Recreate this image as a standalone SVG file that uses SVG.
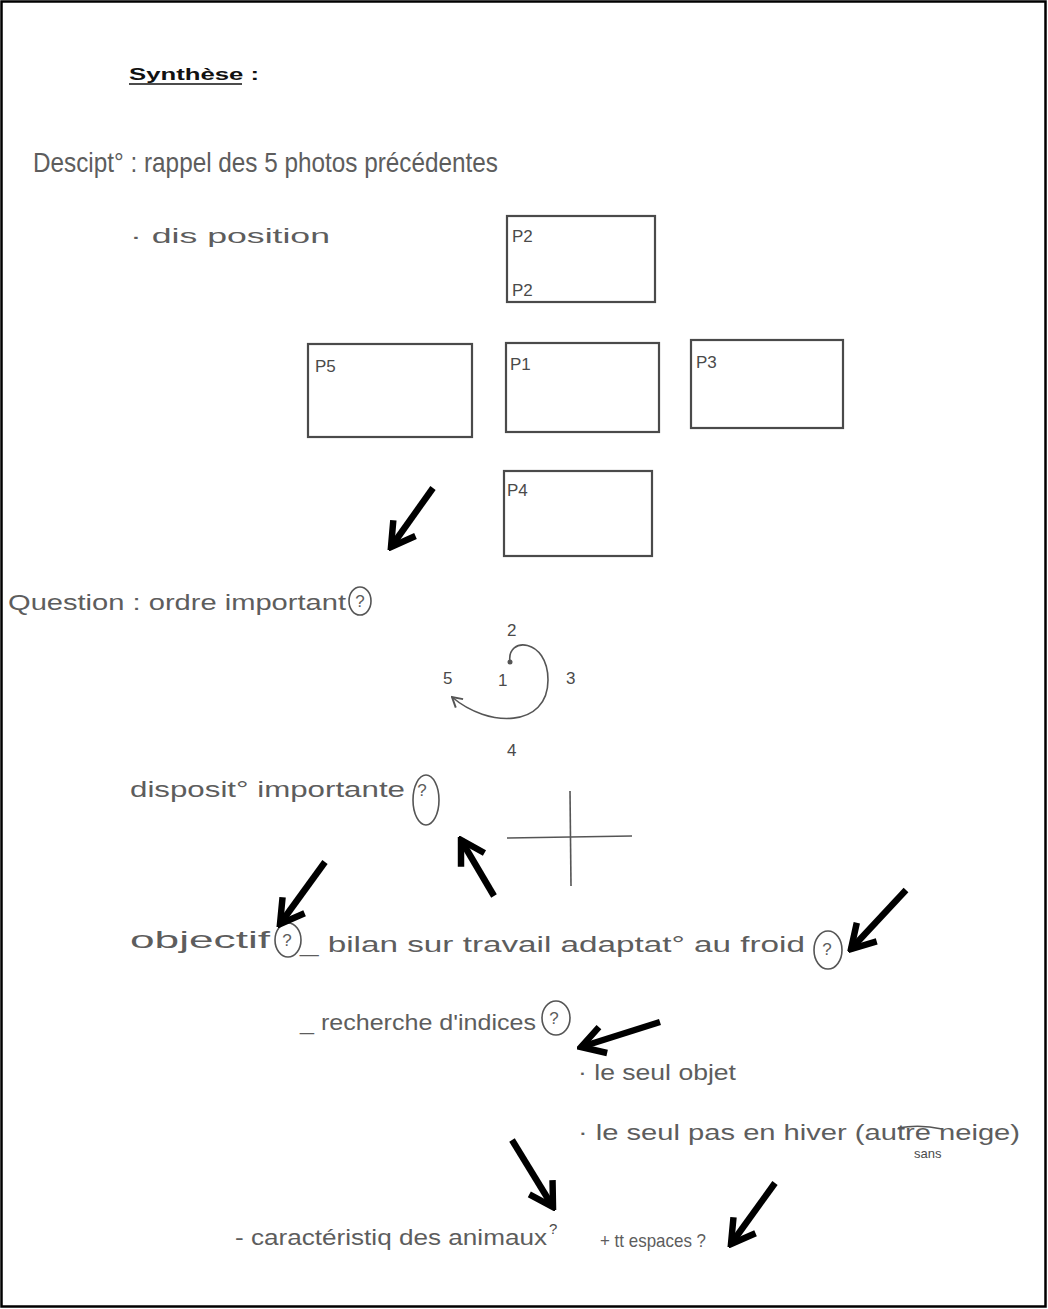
<svg xmlns="http://www.w3.org/2000/svg" width="1048" height="1309" viewBox="0 0 1048 1309">
<defs>
<style>
.hw{font-family:"Liberation Sans","DejaVu Sans",sans-serif;fill:#5d5d5d;font-size:22px;}
.sm{font-family:"Liberation Sans","DejaVu Sans",sans-serif;fill:#4a4a4a;font-size:17px;}
.q{font-family:"Liberation Sans","DejaVu Sans",sans-serif;fill:#5d5d5d;font-size:17px;text-anchor:middle;}
.box{fill:none;stroke:#4a4a4a;stroke-width:2.2;}
.arr{fill:none;stroke:#000;stroke-width:6.5;stroke-linecap:butt;}
.thin{fill:none;stroke:#555;stroke-width:1.6;}
</style>
<marker id="head" viewBox="0 0 10 10" refX="8.8" refY="5" markerWidth="34" markerHeight="34" markerUnits="userSpaceOnUse" orient="auto">
<path d="M2,1 L8.8,5 L2,9" fill="none" stroke="#000" stroke-width="1.9"/>
</marker>
<marker id="small" viewBox="0 0 10 10" refX="9" refY="5" markerWidth="14" markerHeight="14" markerUnits="userSpaceOnUse" orient="auto">
<path d="M2,1 L9,5 L2,9" fill="none" stroke="#555" stroke-width="1.4"/>
</marker>
</defs>
<rect x="0" y="0" width="1048" height="1309" fill="#fff"/>
<rect x="1.5" y="1.5" width="1044" height="1305" fill="none" stroke="#000" stroke-width="2.5"/>

<g id="title">
<text x="129" y="80" style="font-family:'Liberation Sans',sans-serif;font-weight:bold;font-size:16px;fill:#111" textLength="130" lengthAdjust="spacingAndGlyphs">Synthèse :</text>
<line x1="129" y1="84" x2="242" y2="84" stroke="#111" stroke-width="1.3"/>
</g>

<g id="description">
<text class="hw" x="33" y="172" style="font-size:28px" textLength="465" lengthAdjust="spacingAndGlyphs">Descipt° : rappel des 5 photos précédentes</text>
<text class="hw" x="130" y="243" style="font-size:21px" textLength="200" lengthAdjust="spacingAndGlyphs">· dis position</text>
</g>

<g id="photo-P2"><rect class="box" x="507" y="216" width="148" height="86"/><text class="sm" x="512" y="242">P2</text><text class="sm" x="512" y="296">P2</text></g>
<g id="photo-P5"><rect class="box" x="308" y="344" width="164" height="93"/><text class="sm" x="315" y="372">P5</text></g>
<g id="photo-P1"><rect class="box" x="506" y="343" width="153" height="89"/><text class="sm" x="510" y="370">P1</text></g>
<g id="photo-P3"><rect class="box" x="691" y="340" width="152" height="88"/><text class="sm" x="696" y="368">P3</text></g>
<g id="photo-P4"><rect class="box" x="504" y="471" width="148" height="85"/><text class="sm" x="507" y="496">P4</text></g>

<g id="question">
<text class="hw" x="8" y="610" textLength="338" lengthAdjust="spacingAndGlyphs">Question : ordre important</text>
<ellipse class="thin" cx="360" cy="601" rx="11" ry="14"/>
<text class="q" x="360" y="607">?</text>
</g>

<g id="clock">
<text class="sm" x="507" y="636">2</text>
<text class="sm" x="443" y="684">5</text>
<text class="sm" x="498" y="686">1</text>
<text class="sm" x="566" y="684">3</text>
<text class="sm" x="507" y="756">4</text>
<circle cx="510" cy="662" r="2.5" fill="#555"/>
<path class="thin" d="M510,662 C506,636 548,638 548,680 C548,728 488,728 452,697" marker-end="url(#small)"/>
</g>

<g id="disposition">
<text class="hw" x="130" y="797" textLength="275" lengthAdjust="spacingAndGlyphs">disposit° importante</text>
<ellipse class="thin" cx="426" cy="800" rx="13" ry="25"/>
<text class="q" x="422" y="796">?</text>
</g>

<g id="cross">
<line class="thin" x1="507" y1="838" x2="632" y2="836"/>
<line class="thin" x1="570" y1="791" x2="571" y2="886"/>
</g>

<g id="objectif">
<text class="hw" x="130" y="948" style="font-size:24px" textLength="140" lengthAdjust="spacingAndGlyphs">objectif</text>
<ellipse class="thin" cx="288" cy="940" rx="13" ry="17"/>
<text class="q" x="287" y="946">?</text>
</g>

<g id="bilan">
<text class="hw" x="300" y="952" textLength="505" lengthAdjust="spacingAndGlyphs">_ bilan sur travail adaptat° au froid</text>
<ellipse class="thin" cx="828" cy="950" rx="14" ry="19"/>
<text class="q" x="827" y="955">?</text>
</g>

<g id="recherche">
<text class="hw" x="300" y="1030" textLength="236" lengthAdjust="spacingAndGlyphs">_ recherche d'indices</text>
<ellipse class="thin" cx="556" cy="1018" rx="14" ry="17"/>
<text class="q" x="554" y="1024">?</text>
</g>

<g id="objet">
<text class="hw" x="578" y="1080" textLength="158" lengthAdjust="spacingAndGlyphs">· le seul objet</text>
</g>

<g id="hiver">
<text class="hw" x="578" y="1140" textLength="442" lengthAdjust="spacingAndGlyphs">· le seul pas en hiver (autre neige)</text>
<path class="thin" d="M898,1128 Q920,1124 942,1129" />
<text class="sm" x="914" y="1158" style="font-size:13px">sans</text>
</g>

<g id="caracteristiques">
<text class="hw" x="235" y="1245" textLength="312" lengthAdjust="spacingAndGlyphs">- caractéristiq des animaux</text>
<text class="sm" x="549" y="1234" style="font-size:15px">?</text>
<text class="hw" x="600" y="1247" style="font-size:19px" textLength="106" lengthAdjust="spacingAndGlyphs">+ tt espaces ?</text>
</g>

<g id="connectors">
<line class="arr" x1="433" y1="488" x2="391" y2="547" marker-end="url(#head)"/>
<line class="arr" x1="325" y1="862" x2="280" y2="924" marker-end="url(#head)"/>
<line class="arr" x1="494" y1="896" x2="461" y2="840" marker-end="url(#head)"/>
<line class="arr" x1="906" y1="890" x2="851" y2="949" marker-end="url(#head)"/>
<line class="arr" x1="660" y1="1022" x2="581" y2="1047" marker-end="url(#head)"/>
<line class="arr" x1="512" y1="1140" x2="553" y2="1207" marker-end="url(#head)"/>
<line class="arr" x1="775" y1="1183" x2="731" y2="1244" marker-end="url(#head)"/>
</g>
</svg>
